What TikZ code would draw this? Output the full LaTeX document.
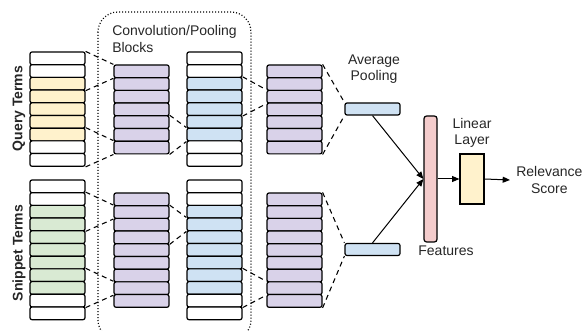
\documentclass[tikz,border=0pt]{standalone}
\usepackage{fontspec}
\setmainfont{Liberation Sans}
\usetikzlibrary{arrows.meta}

\definecolor{qyellow}{HTML}{FFF2CC}
\definecolor{sgreen}{HTML}{D9EAD3}
\definecolor{pblue}{HTML}{CFE2F3}
\definecolor{cpurple}{HTML}{D9D2E9}
\definecolor{fpink}{HTML}{F4CCCC}

\tikzset{
	cell/.style={draw, line width=0.9pt, rounded corners=1.5pt, minimum width=41.25pt, minimum height=9.525pt, inner sep=0pt},
	convline/.style={line width=0.8pt, dash pattern=on 3.75pt off 3pt},
	frame/.style={line width=0.9pt, dash pattern=on 0.75pt off 1.5pt, rounded corners=15pt},
	flow/.style={line width=0.75pt, -{Triangle[length=5.5pt,width=4.5pt]}},
	lbl/.style={inner sep=0pt, text=black!85, font=\fontsize{10.5}{12.5}\selectfont},
}

\begin{document}
\begin{tikzpicture}[x=0.75pt,y=0.75pt,yscale=-1,xscale=1]
	\useasboundingbox (0,0) rectangle (582,331);
	
	%Dotted frame of the conv/pool blocks
	\draw [frame] (98,12) rectangle (251,340);
	
	% Query input terms
	\foreach \i/\fil in {1/white,2/white,3/qyellow,4/qyellow,5/qyellow,6/qyellow,7/qyellow,8/white,9/white}
		\node [cell, fill=\fil] (qin-\i) at (57.5,{58.35+(\i-1)*12.7}) {};
	% Query first conv block
	\foreach \i in {1,...,7}
		\node [cell, fill=cpurple] (qca-\i) at (141.5,{71.35+(\i-1)*12.7}) {};
	% Query pooled block
	\foreach \i/\fil in {1/white,2/white,3/pblue,4/pblue,5/pblue,6/pblue,7/pblue,8/white,9/white}
		\node [cell, fill=\fil] (qpool-\i) at (214.5,{58.35+(\i-1)*12.7}) {};
	% Query second conv block
	\foreach \i in {1,...,7}
		\node [cell, fill=cpurple] (qcb-\i) at (294.5,{71.35+(\i-1)*12.7}) {};
	
	% Snippet input terms
	\foreach \i/\fil in {1/white,2/white,3/sgreen,4/sgreen,5/sgreen,6/sgreen,7/sgreen,8/sgreen,9/sgreen,10/white,11/white}
		\node [cell, fill=\fil] (sin-\i) at (57.5,{186.35+(\i-1)*12.7}) {};
	% Snippet first conv block
	\foreach \i in {1,...,9}
		\node [cell, fill=cpurple] (sca-\i) at (141.5,{199.35+(\i-1)*12.7}) {};
	% Snippet pooled block
	\foreach \i/\fil in {1/white,2/white,3/pblue,4/pblue,5/pblue,6/pblue,7/pblue,8/pblue,9/pblue,10/white,11/white}
		\node [cell, fill=\fil] (spool-\i) at (214.5,{186.35+(\i-1)*12.7}) {};
	% Snippet second conv block
	\foreach \i in {1,...,9}
		\node [cell, fill=cpurple] (scb-\i) at (294.5,{199.35+(\i-1)*12.7}) {};
	
	% Average pooling, features, linear layer
	\node [cell, fill=pblue, minimum height=9pt] (qavg) at (372.5,109) {};
	\node [cell, fill=pblue, minimum height=9pt] (savg) at (372.5,249.5) {};
	\node [cell, fill=fpink, minimum width=9.75pt, minimum height=94.5pt, rounded corners=2pt] (feat) at (430.5,179) {};
	\node [draw, line width=0.9pt, fill=qyellow, minimum width=18pt, minimum height=37.5pt, inner sep=0pt] (lin) at (472,179) {};
	
	% Windows, query side
	\draw [convline] (qin-1.north east) -- (qca-1.north west);
	\draw [convline] (qin-3.south east) -- (qca-1.south west);
	\draw [convline] (qin-7.north east) -- (qca-7.north west);
	\draw [convline] (qin-9.south east) -- (qca-7.south west);
	\draw [convline] (qca-5.north east) -- (qpool-7.north west);
	\draw [convline] (qca-7.south east) -- (qpool-7.south west);
	\draw [convline] (qpool-3.north east) -- (qcb-3.north west);
	\draw [convline] (qpool-5.south east) -- (qcb-3.south west);
	\draw [convline] (qcb-1.north east) -- (qavg.north west);
	\draw [convline] (qcb-7.south east) -- (qavg.south west);
	% Windows, snippet side
	\draw [convline] (sin-2.north east) -- (sca-2.north west);
	\draw [convline] (sin-4.south east) -- (sca-2.south west);
	\draw [convline] (sin-8.north east) -- (sca-8.north west);
	\draw [convline] (sin-10.south east) -- (sca-8.south west);
	\draw [convline] (sca-2.north east) -- (spool-4.north west);
	\draw [convline] (sca-4.south east) -- (spool-4.south west);
	\draw [convline] (spool-8.north east) -- (scb-8.north west);
	\draw [convline] (spool-10.south east) -- (scb-8.south west);
	\draw [convline] (scb-1.north east) -- (savg.north west);
	\draw [convline] (scb-9.south east) -- (savg.south west);
	
	% Text Node
	\node [lbl, anchor=west, align=left] (convlbl) at (112,39) {Convolution/Pooling\\Blocks};
	% Text Node
	\node [lbl, align=center] (avglbl) at (374,69) {Average\\Pooling};
	% Text Node
	\node [lbl, align=center] (linlbl) at (472,133) {Linear\\Layer};
	% Text Node
	\node [lbl, align=center, anchor=west, inner xsep=4.5pt] (rel) at (510,180) {Relevance\\Score};
	% Text Node
	\node [lbl] (featlbl) at (446,251) {Features};
	% Text Node
	\node [lbl, rotate=90, font=\fontsize{10.5}{12.5}\selectfont\bfseries] (qlbl) at (19,108.5) {Query Terms};
	% Text Node
	\node [lbl, rotate=90, font=\fontsize{10.5}{12.5}\selectfont\bfseries] (slbl) at (19,253) {Snippet Terms};
	
	% Arrows
	\draw [flow] (qavg.south) -- (feat.west);
	\draw [flow] (savg.north) -- (feat.west);
	\draw [flow] (feat.east) -- (lin.west);
	\draw [flow] (lin.east) -- (rel.west);
\end{tikzpicture}
\end{document}
